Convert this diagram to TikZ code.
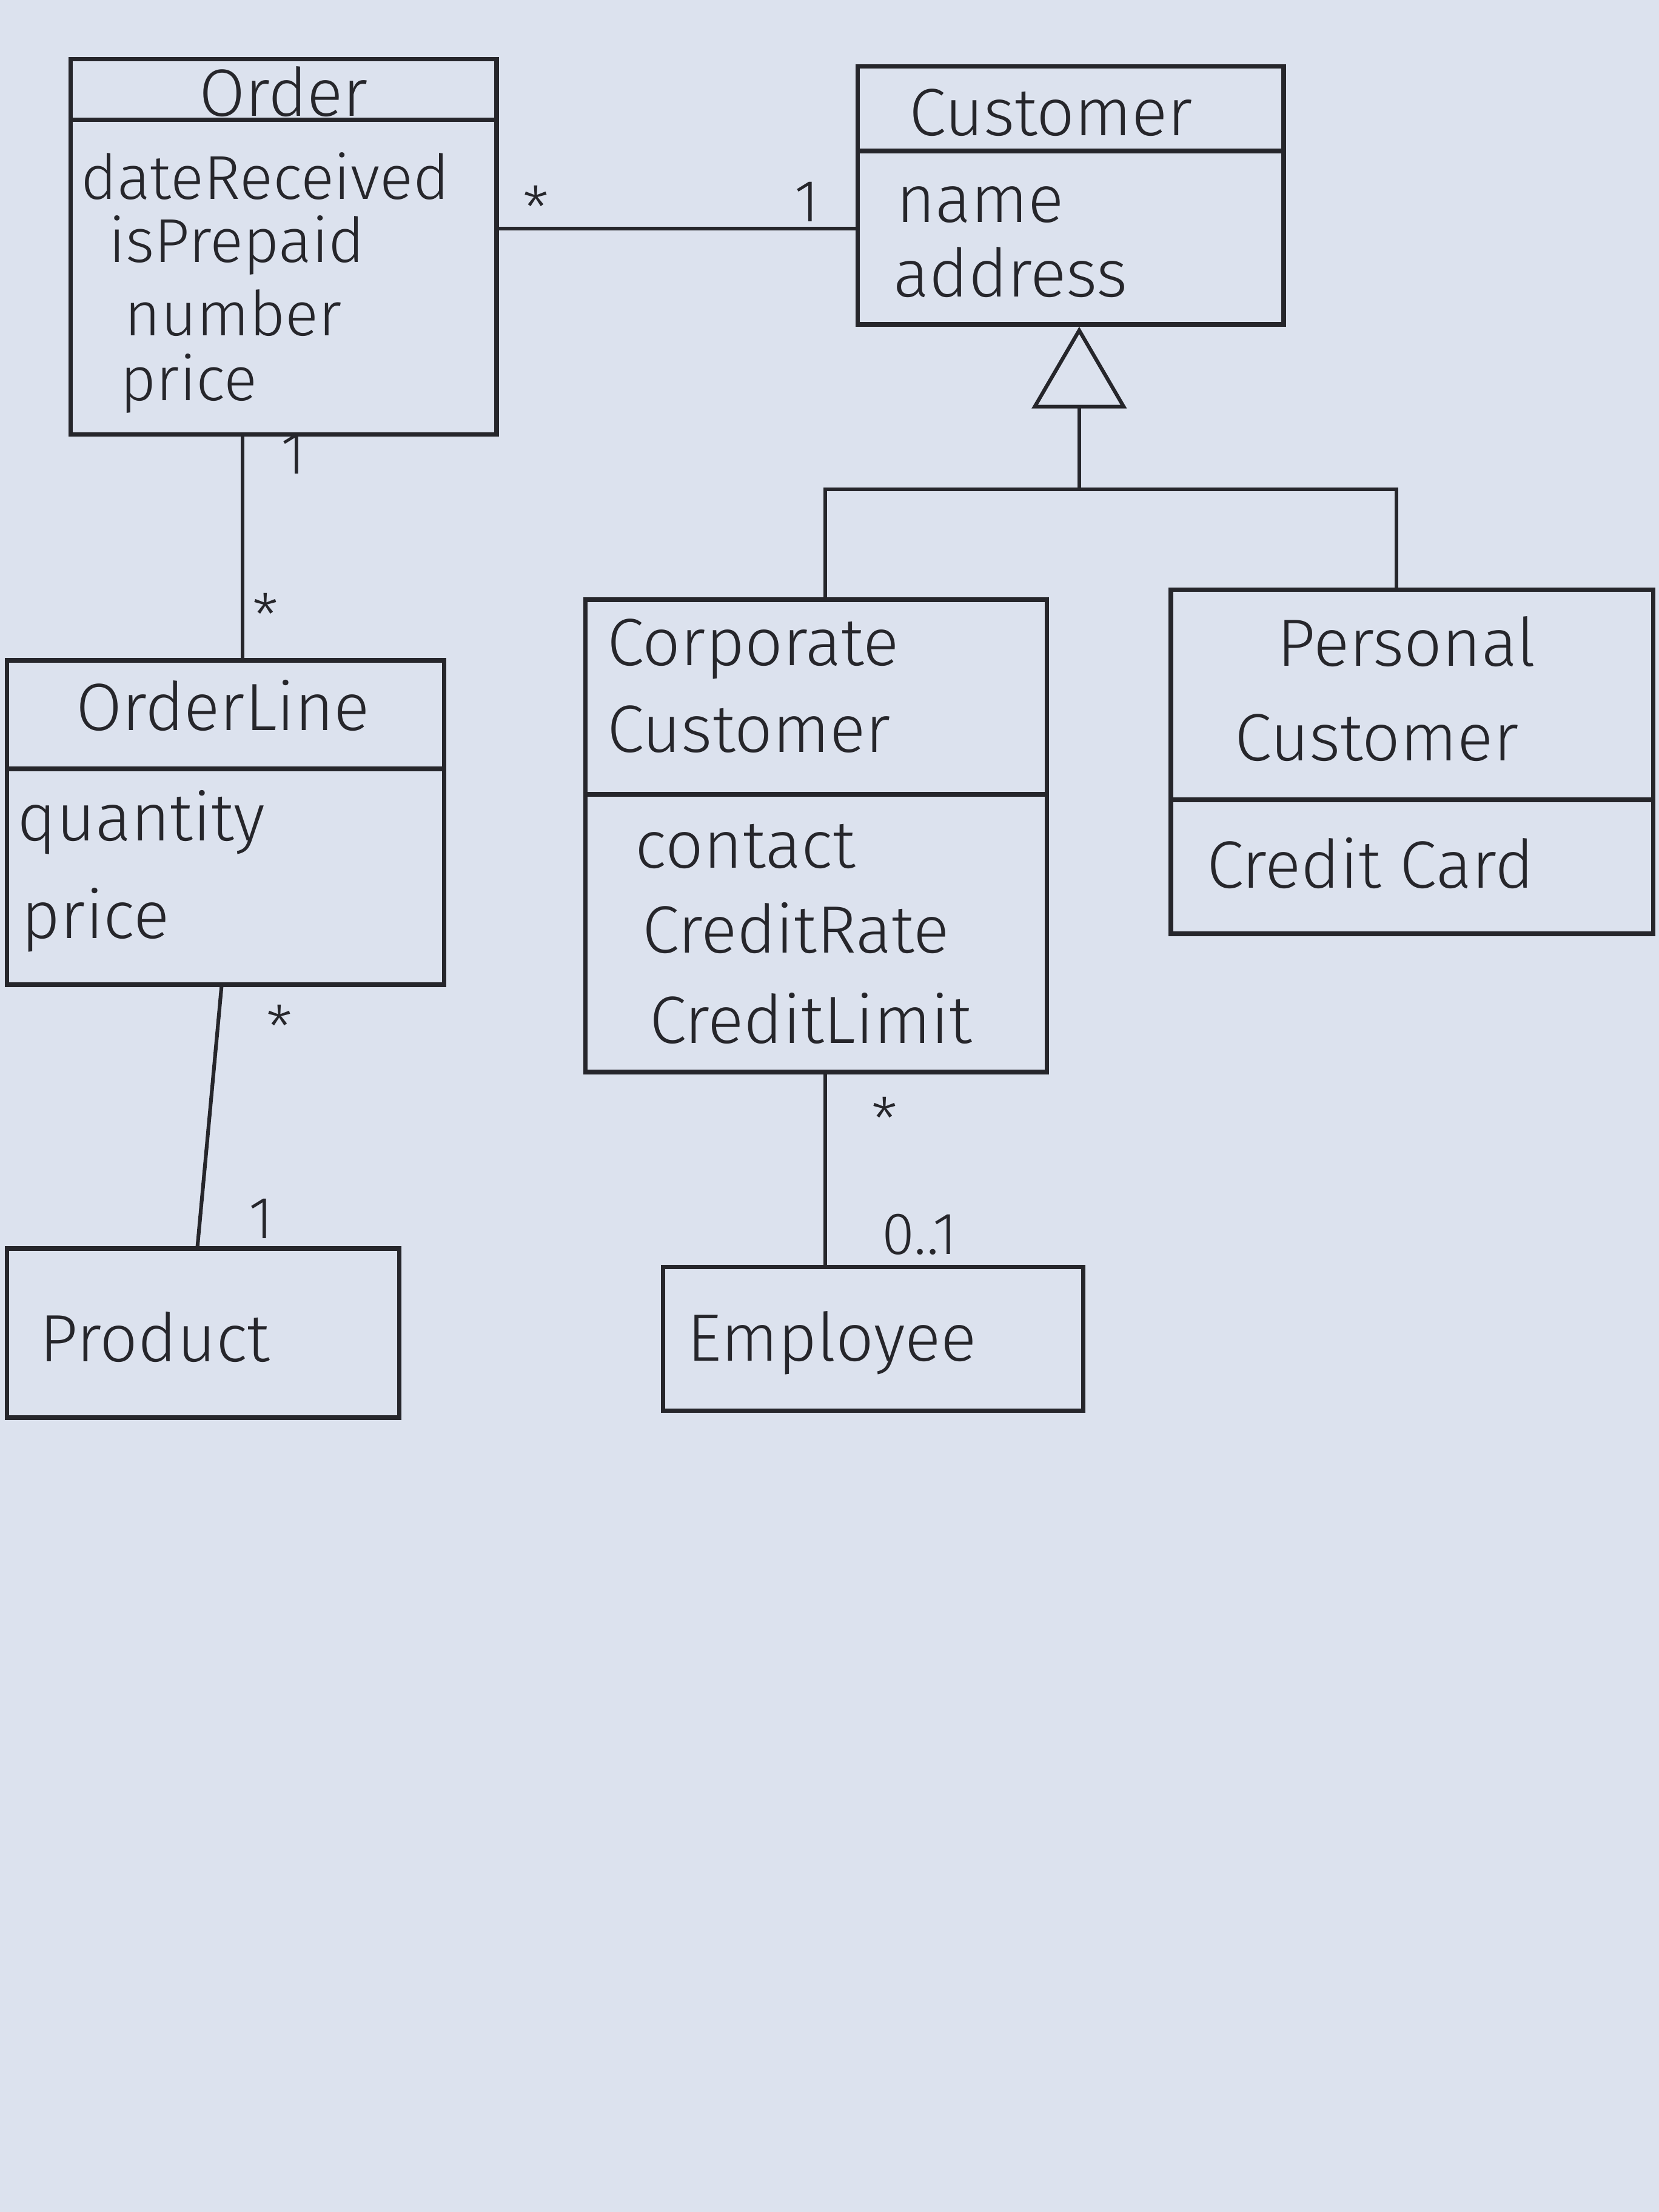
\documentclass[tikz,border=0pt]{standalone}
\usepackage{fontspec}
\setmainfont{Fira Sans Light}
\usetikzlibrary{arrows.meta,calc}
\definecolor{paper}{HTML}{DCE2EE}
\definecolor{ink}{HTML}{26262B}
\begin{document}
\begin{tikzpicture}[x=0.02cm,y=-0.02cm,
  cls/.style={draw=ink,line width=1.8pt,inner sep=0pt},
  lbl/.style={text=ink,font=\fontsize{27}{30}\selectfont,inner sep=0pt},
  attr/.style={lbl,anchor=west},
  sattr/.style={attr,font=\fontsize{25}{28}\selectfont},
  mult/.style={text=ink,font=\fontsize{24}{26}\selectfont,inner sep=0pt},
  sep/.style={draw=ink,line width=1.8pt},
  conn/.style={draw=ink,line width=1.5pt}]
\fill[paper] (0,0) rectangle (1176,1568);
\useasboundingbox (0,0) rectangle (1176,1568);
% class boxes
\node[cls,minimum width=6.04cm,minimum height=5.32cm] (Order) at (201,175) {};
\node[cls,minimum width=6.04cm,minimum height=3.66cm] (Customer) at (759,138.5) {};
\node[cls,minimum width=6.2cm,minimum height=4.6cm] (OrderLine) at (160,583) {};
\node[cls,minimum width=6.54cm,minimum height=6.7cm] (Corporate) at (578.5,592.5) {};
\node[cls,minimum width=6.84cm,minimum height=4.88cm] (Personal) at (1001,540) {};
\node[cls,minimum width=5.56cm,minimum height=2.4cm] (Product) at (144,945) {};
\node[cls,minimum width=5.96cm,minimum height=2.04cm] (Employee) at (619,949) {};
% dividers
\draw[sep] (Order.west |- 0,85) -- (Order.east |- 0,85);
\draw[sep] (Customer.west |- 0,107) -- (Customer.east |- 0,107);
\draw[sep] (OrderLine.west |- 0,545) -- (OrderLine.east |- 0,545);
\draw[sep] (Corporate.west |- 0,563) -- (Corporate.east |- 0,563);
\draw[sep] (Personal.west |- 0,567) -- (Personal.east |- 0,567);
% texts
\node[lbl] (tOrder) at (201,65) {Order};
\node[sattr] (a1) at (57,125) {dateReceived};
\node[sattr] (a2) at (77,174) {isPrepaid};
\node[sattr] (a3) at (88,222) {number};
\node[sattr] (a4) at (85,272) {price};
\node[lbl] (tCustomer) at (745,80) {Customer};
\node[attr] (c1) at (635,145) {name};
\node[attr] (c2) at (633,193) {address};
\node[lbl] (tOrderLine) at (158,500) {OrderLine};
\node[attr] (o1) at (12,583) {quantity};
\node[attr] (o2) at (15,652) {price};
\node[attr] (tCorp1) at (430,460) {Corporate};
\node[attr] (tCorp2) at (430,517) {Customer};
\node[attr] (k1) at (450,600) {contact};
\node[attr] (k2) at (455,658) {CreditRate};
\node[attr] (k3) at (460,722) {CreditLimit};
\node[attr] (tPers1) at (905,455) {Personal};
\node[attr] (tPers2) at (875,523) {Customer};
\node[attr] (p1) at (855,612) {Credit Card};
\node[attr] (tProduct) at (28,948) {Product};
\node[attr] (tEmployee) at (487,952) {Employee};
% associations
\draw[conn] (Order.east |- 0,162) -- (Customer.west |- 0,162);
\node[mult] (m1) at (380,147) {*};
\node[mult] (m2) at (572,143) {1};
\draw[conn] (Order.south -| 172,0) -- (OrderLine.north -| 172,0);
\node[mult] (m3) at (208,322) {1};
\node[mult] (m4) at (188,436) {*};
\draw[conn] (OrderLine.south -| 157,0) -- (Product.north -| 140,0);
\node[mult] (m5) at (198,728) {*};
\node[mult] (m6) at (185,864) {1};
\draw[conn] (Corporate.south -| 585,0) -- (Employee.north -| 585,0);
\node[mult] (m7) at (627,793) {*};
\node[mult] (m8) at (652,875) {0..1};
% generalisation
\coordinate (hub) at (765,347);
\draw[conn] (Corporate.north -| 585,0) |- (hub);
\draw[conn] (Personal.north -| 990,0) |- (hub);
\draw[conn,-{Triangle[open,length=1.16cm,width=1.34cm,line width=1.5pt]}] (hub) -- (Customer.south -| hub);
\end{tikzpicture}
\end{document}
